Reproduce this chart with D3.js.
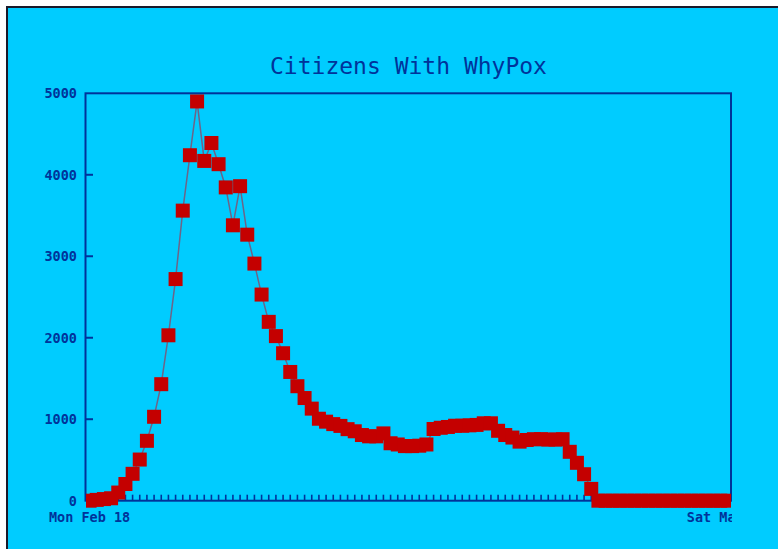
<!DOCTYPE html>
<html><head><meta charset="utf-8">
<script src="https://cdn.jsdelivr.net/npm/d3@7"></script>
<style>
html,body{margin:0;padding:0;background:#fff;overflow:hidden}
svg{display:block}
</style></head><body>
<svg id="c" width="778" height="549"></svg>
<script>
const chartTitle = "Citizens With WhyPox";
const startDay = new Date(2019, 1, 18);
const endDay = new Date(2019, 4, 18);
const citizens = [
  0, 10, 20, 30, 100, 205, 330, 505, 735, 1030,
  1430, 2030, 2720, 3560, 4240, 4900, 4170, 4390, 4130, 3845,
  3380, 3860, 3265, 2910, 2530, 2195, 2020, 1810, 1580, 1405,
  1260, 1130, 1006, 970, 940, 918, 878, 852, 806, 790,
  790, 826, 705, 690, 670, 670, 675, 690, 880, 895,
  905, 920, 920, 925, 930, 950, 950, 858, 806, 775,
  725, 745, 755, 755, 750, 750, 755, 600, 465, 325,
  145, 0, 0, 0, 0, 0, 0, 0, 0, 0,
  0, 0, 0, 0, 0, 0, 0, 0, 0, 0
];
const yTickValues = [0, 1000, 2000, 3000, 4000, 5000];
const xTickLabels = ["Mon Feb 18", "Sat May 18"];

const days = d3.timeDay.range(startDay, d3.timeDay.offset(endDay, 1));
const data = days.map((d, i) => ({date: d, value: citizens[i]}));

const svg = d3.select("#c");
const L = 86, R = 731, T = 93.3, B = 500.7;
const navy = "#00339a";

svg.append("rect").attr("x", 0).attr("y", 0).attr("width", 778).attr("height", 549).attr("fill", "#fff");
svg.append("rect").attr("x", 7).attr("y", 7).attr("width", 800).attr("height", 600)
  .attr("fill", "#00ccff").attr("stroke", "#1a1a2a").attr("stroke-width", 2);

const x = d3.scaleTime()
  .domain([d3.timeHour.offset(startDay, -12), d3.timeHour.offset(endDay, 12)])
  .range([L, R]);
const y = d3.scaleLinear().domain([0, 5000]).range([B, T]);

const defs = svg.append("defs");
defs.append("clipPath").attr("id", "plotclip").append("rect")
  .attr("x", L).attr("y", 0).attr("width", R - L).attr("height", 549);
defs.append("clipPath").attr("id", "labclip").append("rect")
  .attr("x", 0).attr("y", 0).attr("width", R + 1).attr("height", 549);

// title
svg.append("text").attr("x", (L + R) / 2).attr("y", 74)
  .attr("text-anchor", "middle")
  .attr("font-family", "DejaVu Sans Mono, monospace")
  .attr("font-size", 23).attr("fill", navy)
  .text(chartTitle);

// x ticks (small upward marks at every day)
svg.append("g").selectAll("line").data(days).join("line")
  .attr("x1", d => x(d)).attr("x2", d => x(d))
  .attr("y1", B - 6).attr("y2", B)
  .attr("stroke", navy).attr("stroke-width", 1.6);

// y axis ticks + labels
const yAxis = d3.axisLeft(y).tickValues(yTickValues).tickSize(0).tickPadding(9).tickFormat(d3.format("d"));
const yg = svg.append("g").attr("transform", `translate(${L},0)`).call(yAxis);
yg.select(".domain").remove();
yg.selectAll("text").attr("font-family", "DejaVu Sans Mono, monospace")
  .attr("font-size", 13.5).attr("font-weight", "bold").attr("fill", navy);
svg.append("g").selectAll("line").data(yTickValues.filter(v => v > 0 && v < 5000)).join("line")
  .attr("x1", L).attr("x2", L + 7).attr("y1", d => y(d)).attr("y2", d => y(d))
  .attr("stroke", navy).attr("stroke-width", 2);

// frame
svg.append("rect").attr("x", L - 0.5).attr("y", T).attr("width", R - L + 0.5).attr("height", B - T)
  .attr("fill", "none").attr("stroke", navy).attr("stroke-width", 2);

// data line + markers
const plot = svg.append("g").attr("clip-path", "url(#plotclip)");
plot.append("path").datum(data)
  .attr("d", d3.line().x(d => x(d.date)).y(d => y(d.value)))
  .attr("fill", "none").attr("stroke", "#6d6488").attr("stroke-width", 1.5);
const ms = 14;
plot.selectAll("rect.m").data(data).join("rect").attr("class", "m")
  .attr("x", d => x(d.date) - ms / 2).attr("y", d => y(d.value) - ms / 2)
  .attr("width", ms).attr("height", ms).attr("fill", "#c40000");

// x labels
const lab = svg.append("g").attr("clip-path", "url(#labclip)");
lab.selectAll("text").data([startDay, endDay]).join("text")
  .attr("x", d => x(d)).attr("y", 521.5).attr("text-anchor", "middle")
  .attr("font-family", "DejaVu Sans Mono, monospace")
  .attr("font-size", 13.5).attr("font-weight", "bold").attr("fill", navy)
  .text((d, i) => xTickLabels[i]);
</script>
</body></html>
